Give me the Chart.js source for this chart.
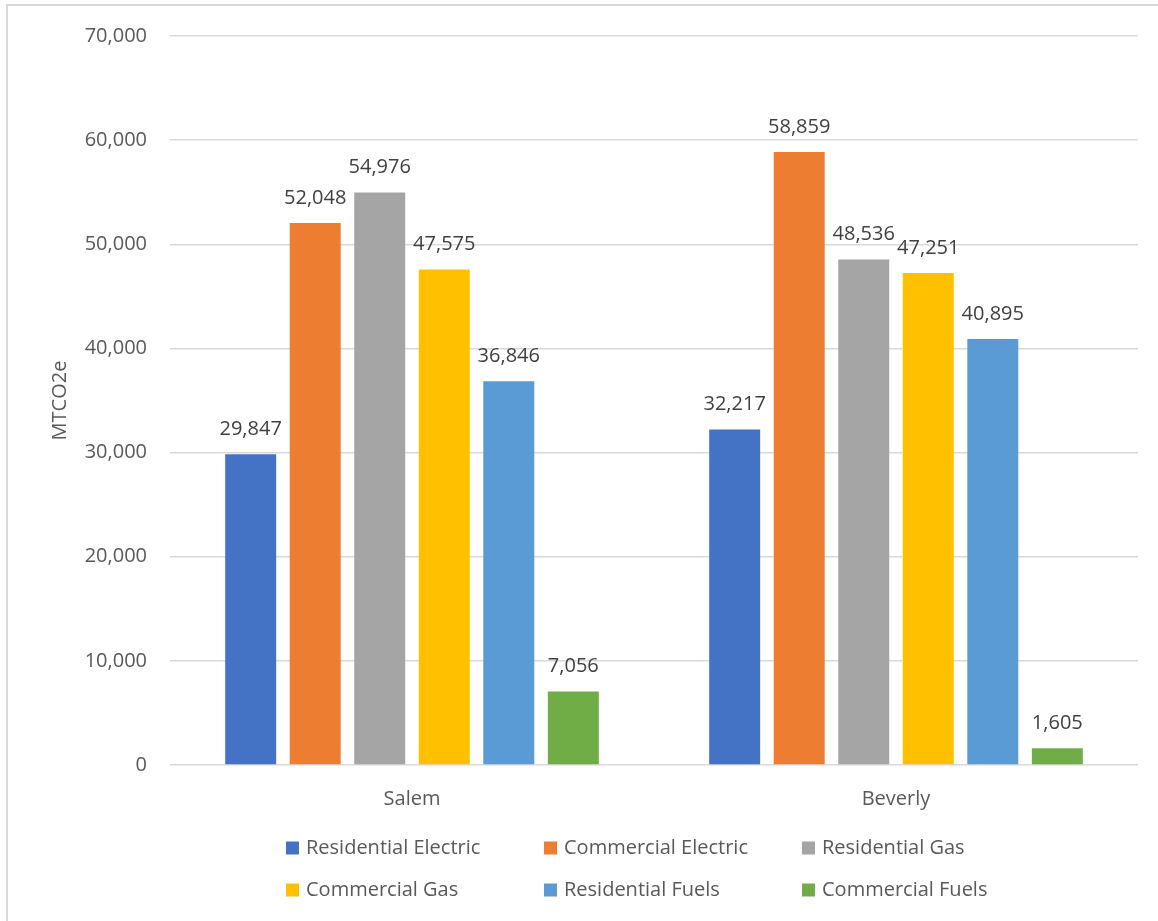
<!DOCTYPE html>
<html>
<head>
<meta charset="utf-8">
<script src="https://cdn.jsdelivr.net/npm/chart.js@4"></script>
<style>
  body { margin: 0; background: #fff; overflow: hidden; }
  #frame {
    position: absolute; left: 6px; top: 4px; width: 1200px; height: 960px;
    border-left: 2px solid #d9d9d9; border-top: 2px solid #d9d9d9;
  }
  #emissionsChart { position: absolute; left: 0; top: 0; }
</style>
</head>
<body>
<div id="frame"></div>
<canvas id="emissionsChart" width="1158" height="921"></canvas>
<script>
const cities = ["Salem", "Beverly"];
const seriesNames = [
  "Residential Electric",
  "Commercial Electric",
  "Residential Gas",
  "Commercial Gas",
  "Residential Fuels",
  "Commercial Fuels",
];
const residentialElectric = [29847, 32217];
const commercialElectric = [52048, 58859];
const residentialGas = [54976, 48536];
const commercialGas = [47575, 47251];
const residentialFuels = [36846, 40895];
const commercialFuels = [7056, 1605];
const seriesColors = ["#4472c4", "#ed7d31", "#a5a5a5", "#ffc000", "#5b9bd5", "#70ad47"];
const yTicks = [0, 10000, 20000, 30000, 40000, 50000, 60000, 70000];

const FONT = "'Open Sans', sans-serif";
const fmt = (v) => v.toLocaleString("en-US");

const seriesValues = [
  residentialElectric, commercialElectric, residentialGas,
  commercialGas, residentialFuels, commercialFuels,
];

// value labels above every bar
const barLabels = {
  id: "barLabels",
  afterDatasetsDraw(chart) {
    const ctx = chart.ctx;
    ctx.save();
    ctx.font = "20px " + FONT;
    ctx.fillStyle = "#404040";
    ctx.textAlign = "center";
    ctx.textBaseline = "middle";
    chart.data.datasets.forEach((ds, i) => {
      chart.getDatasetMeta(i).data.forEach((bar, j) => {
        ctx.fillText(fmt(ds.data[j]), bar.x, bar.y - 25);
      });
    });
    ctx.restore();
  },
};

// legend laid out as a 3 column grid under the axis
const gridLegend = {
  id: "gridLegend",
  afterDraw(chart) {
    const ctx = chart.ctx;
    ctx.save();
    ctx.font = "20px " + FONT;
    ctx.textBaseline = "middle";
    ctx.textAlign = "left";
    chart.data.datasets.forEach((ds, i) => {
      const x = 286 + (i % 3) * 258;
      const y = 848 + Math.floor(i / 3) * 42;
      ctx.fillStyle = ds.backgroundColor;
      ctx.fillRect(x, y - 6.5, 13, 13);
      ctx.fillStyle = "#595959";
      ctx.fillText(ds.label, x + 20, y);
    });
    ctx.restore();
  },
};

document.addEventListener("DOMContentLoaded", function () {
  const ctx = document.getElementById("emissionsChart").getContext("2d");
  new Chart(ctx, {
    type: "bar",
    data: {
      labels: cities,
      datasets: seriesNames.map((name, i) => ({
        label: name,
        data: seriesValues[i],
        backgroundColor: seriesColors[i],
        categoryPercentage: 0.8,
        barPercentage: 0.79,
      })),
    },
    options: {
      responsive: false,
      animation: false,
      layout: { padding: { left: 45, top: 36, right: 20, bottom: 106 } },
      plugins: {
        legend: { display: false },
        tooltip: { enabled: false },
      },
      scales: {
        y: {
          min: 0,
          max: 70000,
          afterBuildTicks: (scale) => {
            scale.ticks = yTicks.map((v) => ({ value: v }));
          },
          afterFit: (scale) => {
            scale.width = 125;
          },
          ticks: {
            color: "#595959",
            font: { family: FONT, size: 20 },
            padding: 23,
            callback: (v) => fmt(v),
          },
          grid: { color: "#d9d9d9", lineWidth: 1.5, drawTicks: false },
          border: { display: false },
          title: {
            display: true,
            text: "MTCO2e",
            color: "#595959",
            font: { family: FONT, size: 20 },
            padding: { top: 3, bottom: 0 },
          },
        },
        x: {
          afterFit: (scale) => {
            scale.height = 50;
          },
          ticks: {
            color: "#595959",
            font: { family: FONT, size: 20 },
            padding: 14,
          },
          grid: { display: false },
          border: { display: false },
        },
      },
    },
    plugins: [barLabels, gridLegend],
  });
});
</script>
</body>
</html>
